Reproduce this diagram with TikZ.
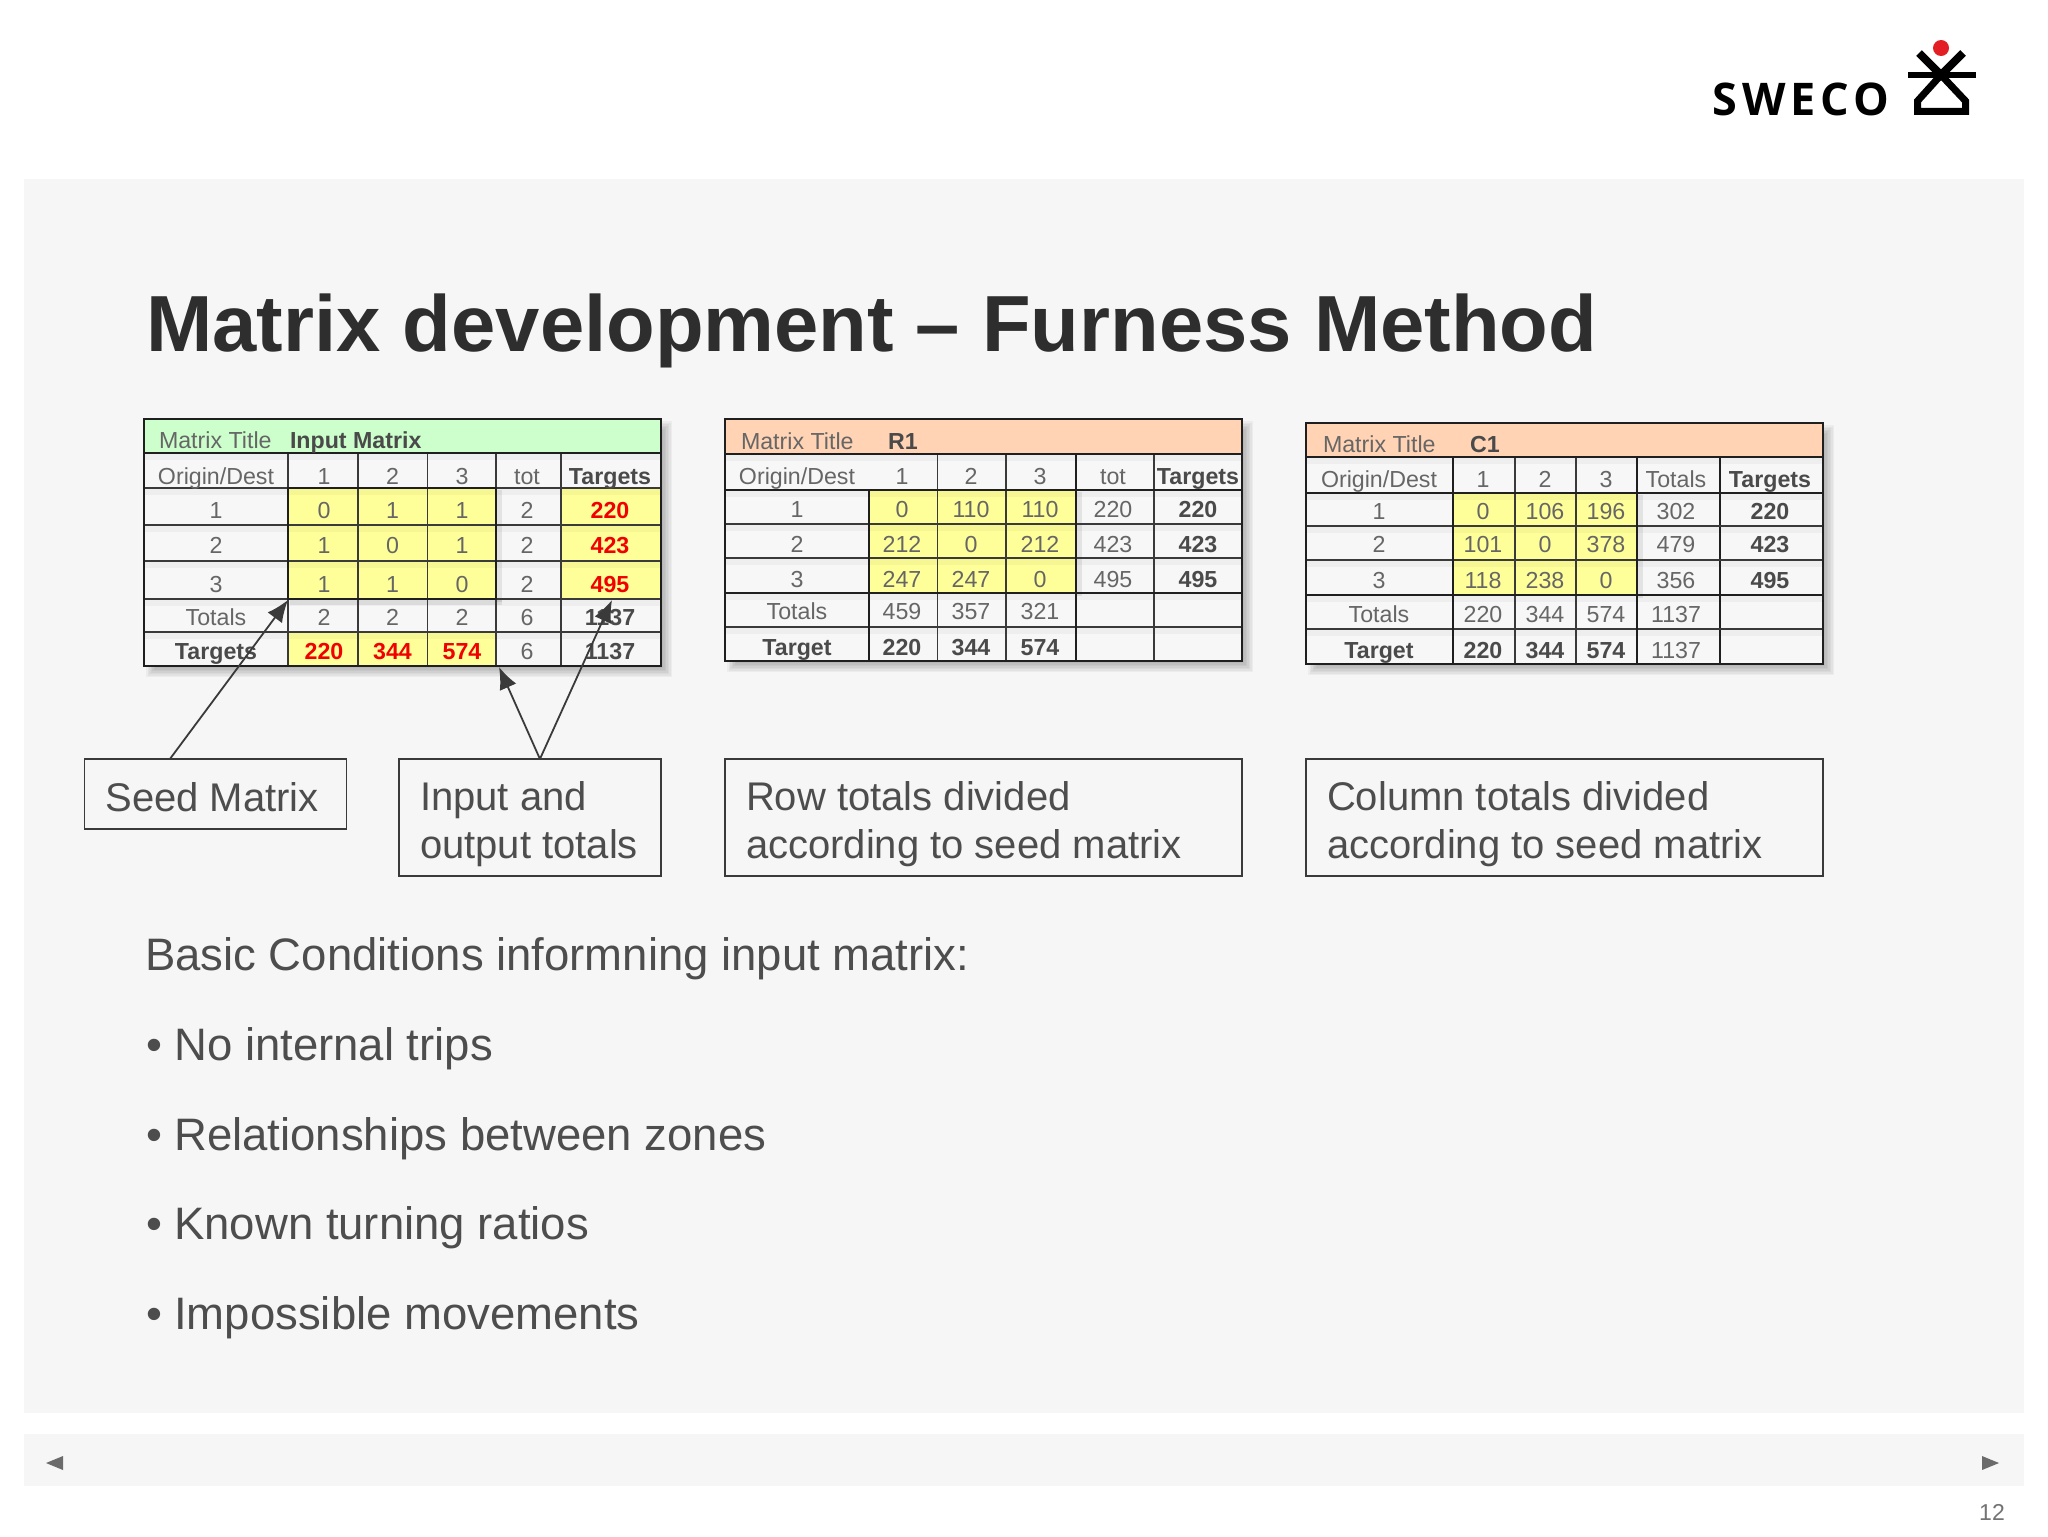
\documentclass[tikz,border=0pt]{standalone}
\usepackage{fontspec}
\setmainfont{Liberation Sans}
\newfontfamily\logofont{Open Sans}[LetterSpace=11]
\usetikzlibrary{arrows.meta,calc}
\definecolor{panelbg}{HTML}{F7F6F7}
\definecolor{bodytxt}{HTML}{4D4D4D}
\definecolor{celltxt}{HTML}{666666}
\definecolor{boldtxt}{HTML}{4A4A4A}
\definecolor{yellowcell}{HTML}{FFFF99}
\definecolor{greentitle}{HTML}{CCFFCC}
\definecolor{orangetitle}{HTML}{FFD3B3}
\definecolor{gridline}{HTML}{3A3A3A}
\definecolor{redtxt}{HTML}{F00000}
\definecolor{logored}{HTML}{E31E24}
\newcommand{\bd}[1]{{\bfseries\color{boldtxt}#1}}
\newcommand{\rd}[1]{{\bfseries\color{redtxt}#1}}
\newcommand{\topstrut}[1]{\rule{0pt}{#1}}
% one table row: prefix, baseline y, six texts; column centres in \cA..\cF
\newcommand{\cellnode}[4]{\if\relax\detokenize{#4}\relax\else\node[celltext,name=#1] at (#2,#3) {#4};\fi}
\newcommand{\trow}[8]{%
  \cellnode{#1a}{\cA}{#2}{#3}\cellnode{#1b}{\cB}{#2}{#4}\cellnode{#1c}{\cC}{#2}{#5}%
  \cellnode{#1d}{\cD}{#2}{#6}\cellnode{#1e}{\cE}{#2}{#7}\cellnode{#1f}{\cF}{#2}{#8}}
% soft drop shadow of a rectangle
\newcommand{\softshadow}[4]{%
  \foreach \s in {0,1.5,3,4.5,6,7.5,9}{
    \fill[black,opacity=0.04] (#1+2+\s,#2+2+\s) rectangle (#3+11-\s,#4+11-\s);}}
\tikzset{
  celltext/.style={anchor=base,inner sep=0pt,outer sep=0pt,font=\fontsize{11.6}{14}\selectfont,text=celltxt},
  titletext/.style={anchor=base west,inner sep=0pt,outer sep=0pt,font=\fontsize{11.6}{14}\selectfont,text=celltxt},
  thin grid/.style={line width=0.75pt,draw=gridline},
  thick grid/.style={line width=1.35pt,draw=black!88},
  line shade/.style={line width=4pt,draw=black,opacity=0.035},
  callout/.style={draw=gridline,line width=0.9pt,anchor=north west,inner xsep=10.5pt,inner ysep=0pt,outer sep=0pt,
    align=flush left,font=\fontsize{20}{24}\selectfont,text=bodytxt},
  bodyline/.style={anchor=base west,inner sep=0pt,outer sep=0pt,font=\fontsize{22.75}{27}\selectfont,text=bodytxt},
  pointer/.style={draw=gridline,line width=0.9pt,-{Latex[length=11pt,width=9pt]}},
  navmark/.style={fill=black!58,draw=none}
}
\begin{document}
\begin{tikzpicture}[x=0.5pt,y=-0.5pt]
\useasboundingbox (0,0) rectangle (2048,1536);
\fill[white] (0,0) rectangle (2048,1536);
% panels
\fill[panelbg] (24,179) rectangle (2024,1413);
\fill[panelbg] (24,1434) rectangle (2024,1486);
\fill[navmark] (46,1463) -- (63,1456) -- (63,1470) -- cycle;
\fill[navmark] (1999,1463) -- (1982,1456) -- (1982,1470) -- cycle;
\node[anchor=base,inner sep=0pt,font=\fontsize{11.5}{14}\selectfont,text=black!55] (pageno) at (1992,1520) {12};
% logo
\node[anchor=base west,inner sep=0pt,font=\logofont\bfseries\fontsize{22.5}{26}\selectfont,text=black] (logotext) at (1712,115) {SWECO};
\fill[logored] (1941,48) circle[radius=8];
\draw[black,line width=4pt] (1919,53) -- (1941,75) -- (1963,53);
\draw[black,line width=3.25pt] (1908,75) -- (1976,75);
\draw[black,line width=3.5pt,line join=miter] (1941,75) -- (1917.5,101) -- (1917.5,111.5) -- (1965.5,111.5) -- (1965.5,101) -- cycle;
% title
\node[anchor=base west,inner sep=0pt,font=\bfseries\fontsize{39.8}{46}\selectfont,text=black!82] (title) at (146,351) {Matrix development – Furness Method};

% ---------- table 1
\softshadow{144}{419}{661}{666}
\fill[white!97!black] (144,419) rectangle (661,666);
\fill[greentitle] (144,419) rectangle (661,453);
\fill[yellowcell] (288,488) rectangle (496,599);
\fill[yellowcell] (561,488) rectangle (661,599);
\fill[yellowcell] (288,632) rectangle (496,666);
\foreach \y in {456,491,528,564,602,635}{\draw[line shade] (144,\y) -- (661,\y);}
\fill[black,opacity=0.08] (496,490) rectangle (502,602);
\fill[black,opacity=0.08] (290,599) rectangle (502,605);
\foreach \x in {288,358,427.5,496,561}{\draw[thin grid] (\x,453) -- (\x,666);}
\foreach \y in {488,525,561,599,632}{\draw[thin grid] (144,\y) -- (661,\y);}
\draw[thick grid] (288,488) rectangle (496,599);
\draw[thick grid] (144,419) rectangle (661,666);
\draw[thick grid] (144,453) -- (661,453);
\def\cA{216}\def\cB{324}\def\cC{392.5}\def\cD{462}\def\cE{527}\def\cF{610}
\node[titletext] (t1title) at (159,448) {Matrix Title};
\node[titletext] (t1name) at (290,448) {\bd{Input Matrix}};
\trow{t1h}{484}{Origin/Dest}{1}{2}{3}{tot}{\bd{Targets}}
\trow{t1p}{518}{1}{0}{1}{1}{2}{\rd{220}}
\trow{t1q}{553}{2}{1}{0}{1}{2}{\rd{423}}
\trow{t1r}{592}{3}{1}{1}{0}{2}{\rd{495}}
\trow{t1s}{625}{Totals}{2}{2}{2}{6}{\bd{1137}}
\trow{t1t}{659}{\bd{Targets}}{\rd{220}}{\rd{344}}{\rd{574}}{6}{\bd{1137}}

% ---------- table 2
\softshadow{725}{419}{1242}{661}
\fill[white!97!black] (725,419) rectangle (1242,661);
\fill[orangetitle] (725,419) rectangle (1242,454);
\fill[yellowcell] (869,490) rectangle (1076,593);
\foreach \y in {457,493,527,561,596,630}{\draw[line shade] (725,\y) -- (1242,\y);}
\fill[black,opacity=0.08] (1076,492) rectangle (1082,596);
\foreach \x in {937.5,1006,1154}{\draw[thin grid] (\x,454) -- (\x,661);}
\foreach \y in {524,558,627}{\draw[thin grid] (725,\y) -- (1242,\y);}
\draw[thick grid] (725,490) -- (1242,490);
\draw[thick grid] (725,593) -- (1242,593);
\draw[thick grid] (869,490) -- (869,661);
\draw[thick grid] (1076,454) -- (1076,661);
\draw[thick grid] (725,419) rectangle (1242,661);
\draw[thick grid] (725,454) -- (1242,454);
\def\cA{797}\def\cB{902}\def\cC{971}\def\cD{1040}\def\cE{1113}\def\cF{1198}
\node[titletext] (t2title) at (741,449) {Matrix Title};
\node[titletext] (t2name) at (888,449) {\bd{R1}};
\trow{t2h}{484}{Origin/Dest}{1}{2}{3}{tot}{\bd{Targets}}
\trow{t2p}{517}{1}{0}{110}{110}{220}{\bd{220}}
\trow{t2q}{552}{2}{212}{0}{212}{423}{\bd{423}}
\trow{t2r}{587}{3}{247}{247}{0}{495}{\bd{495}}
\trow{t2s}{619}{Totals}{459}{357}{321}{}{}
\trow{t2t}{655}{\bd{Target}}{\bd{220}}{\bd{344}}{\bd{574}}{}{}

% ---------- table 3
\softshadow{1306}{423}{1823}{664}
\fill[white!97!black] (1306,423) rectangle (1823,664);
\fill[orangetitle] (1306,423) rectangle (1823,457);
\fill[yellowcell] (1453,493) rectangle (1637,595);
\foreach \y in {460,496,529,563,598,632}{\draw[line shade] (1306,\y) -- (1823,\y);}
\fill[black,opacity=0.08] (1637,495) rectangle (1643,598);
\foreach \x in {1515,1576}{\draw[thin grid] (\x,457) -- (\x,664);}
\draw[thick grid] (1720,457) -- (1720,664);
\foreach \y in {526,560,629}{\draw[thin grid] (1306,\y) -- (1823,\y);}
\draw[thick grid] (1306,493) -- (1823,493);
\draw[thick grid] (1306,595) -- (1823,595);
\draw[thick grid] (1453,457) -- (1453,664);
\draw[thick grid] (1637,457) -- (1637,664);
\draw[thick grid] (1306,423) rectangle (1823,664);
\draw[thick grid] (1306,457) -- (1823,457);
\def\cA{1379}\def\cB{1483}\def\cC{1545}\def\cD{1606}\def\cE{1676}\def\cF{1770}
\node[titletext] (t3title) at (1323,452) {Matrix Title};
\node[titletext] (t3name) at (1470,452) {\bd{C1}};
\trow{t3h}{487}{Origin/Dest}{1}{2}{3}{Totals}{\bd{Targets}}
\trow{t3p}{519}{1}{0}{106}{196}{302}{\bd{220}}
\trow{t3q}{552}{2}{101}{0}{378}{479}{\bd{423}}
\trow{t3r}{588}{3}{118}{238}{0}{356}{\bd{495}}
\trow{t3s}{622}{Totals}{220}{344}{574}{1137}{}
\trow{t3t}{658}{\bd{Target}}{\bd{220}}{\bd{344}}{\bd{574}}{1137}{}

% ---------- callouts
\node[callout,text width=110pt,minimum height=35pt] (seed) at (84.5,759) {\topstrut{17.2pt}Seed Matrix};
\node[callout,text width=110pt,minimum height=58.5pt] (inout) at (399,759) {\topstrut{21.6pt}Input and\\output totals};
\node[callout,text width=237.5pt,minimum height=58.5pt] (rowbox) at (725,759) {\topstrut{21.6pt}Row totals divided\\according to seed matrix};
\node[callout,text width=237.5pt,minimum height=58.5pt] (colbox) at (1306,759) {\topstrut{21.6pt}Column totals divided\\according to seed matrix};
\coordinate (seedtip) at (288,600);
\coordinate (sumtip) at (499,667);
\coordinate (targettip) at (612,600);
\draw[pointer] ($(seed.north west)!0.326!(seed.north east)$) -- (seedtip);
\draw[pointer] ($(inout.north west)!0.538!(inout.north east)$) -- (sumtip);
\draw[pointer] ($(inout.north west)!0.538!(inout.north east)$) -- (targettip);

% ---------- body
\node[bodyline] (b0) at (145,970) {Basic Conditions informning input matrix:};
\node[bodyline] (b1) at (146,1060) {•\hspace{6.2pt}No internal trips};
\node[bodyline] (b2) at (146,1150) {•\hspace{6.2pt}Relationships between zones};
\node[bodyline] (b3) at (146,1239) {•\hspace{6.2pt}Known turning ratios};
\node[bodyline] (b4) at (146,1329) {•\hspace{6.2pt}Impossible movements};
\end{tikzpicture}
\end{document}
